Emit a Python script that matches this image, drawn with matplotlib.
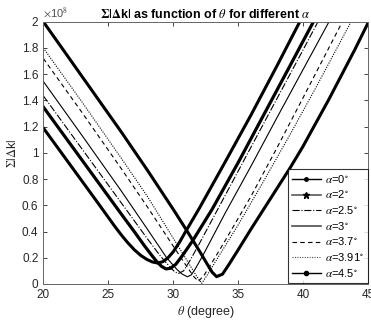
import numpy as np
import matplotlib
matplotlib.use('Agg')
import matplotlib.pyplot as plt
from matplotlib.lines import Line2D

plt.rcParams['font.family'] = ['Liberation Sans', 'DejaVu Sans']
plt.rcParams['mathtext.fontset'] = 'stix'

# values, y in units of 1e8
t_a0 = [20, 22, 24, 25.5, 26, 26.5, 27, 27.5, 28, 28.4, 28.8, 29.2, 29.6, 30.0, 30.5, 30.9, 32.0, 34.0, 36.0, 38.0, 39.75]
v_a0 = [1.19, 0.918, 0.646, 0.44, 0.375, 0.315, 0.262, 0.218, 0.186, 0.168, 0.16, 0.17, 0.2, 0.245, 0.32, 0.39, 0.575, 0.93, 1.29, 1.665, 2.0]

t_a2 = [20, 22, 24, 26, 27, 27.8, 28.3, 28.7, 29.1, 29.45, 29.8, 30.2, 30.7, 31.5, 33, 35, 37, 39, 40.8]
v_a2 = [1.35, 1.078, 0.806, 0.534, 0.40, 0.29, 0.225, 0.175, 0.135, 0.115, 0.12, 0.15, 0.215, 0.33, 0.57, 0.925, 1.295, 1.665, 2.0]

t_a25 = [20, 22, 24, 26, 28, 29, 29.7, 30.1, 30.4, 30.8, 31.3, 32, 34, 36, 38, 40, 41.15]
v_a25 = [1.435, 1.163, 0.891, 0.619, 0.347, 0.215, 0.135, 0.095, 0.08, 0.10, 0.18, 0.305, 0.675, 1.045, 1.415, 1.785, 2.0]

t_a3 = [20, 23, 26, 28, 29.5, 30.3, 30.7, 31.1, 31.4, 31.7, 32.3, 34, 36, 38, 40, 42]
v_a3 = [1.545, 1.13, 0.71, 0.42, 0.20, 0.11, 0.075, 0.055, 0.07, 0.115, 0.22, 0.54, 0.90, 1.27, 1.635, 2.0]

t_a37 = [20, 23, 26, 28, 30, 31, 31.6, 31.95, 32.4, 33, 34, 36, 38, 40, 43.03]
v_a37 = [1.72, 1.305, 0.88, 0.59, 0.29, 0.14, 0.055, 0.02, 0.07, 0.165, 0.33, 0.67, 1.04, 1.42, 2.0]

t_a391 = [20, 23, 26, 28, 30, 31, 31.8, 32.2, 32.6, 33, 35, 37, 39, 41, 43.7]
v_a391 = [1.80, 1.385, 0.96, 0.67, 0.35, 0.19, 0.06, 0.005, 0.065, 0.13, 0.45, 0.79, 1.14, 1.50, 2.0]

t_a45 = [20, 22, 24, 26, 28, 29, 30, 31, 32, 32.6, 33.0, 33.34, 33.8, 34.3, 35, 36, 37, 38, 39, 40, 42, 44, 45]
v_a45 = [2.0, 1.72, 1.44, 1.16, 0.87, 0.72, 0.57, 0.415, 0.255, 0.155, 0.09, 0.056, 0.075, 0.15, 0.26, 0.42, 0.575, 0.73, 0.885, 1.05, 1.41, 1.79, 1.99]

labels = [r'$\alpha$=0$^{\circ}$', r'$\alpha$=2$^{\circ}$', r'$\alpha$=2.5$^{\circ}$', r'$\alpha$=3$^{\circ}$',
          r'$\alpha$=3.7$^{\circ}$', r'$\alpha$=3.91$^{\circ}$', r'$\alpha$=4.5$^{\circ}$']
yticks = [0, 0.2, 0.4, 0.6, 0.8, 1, 1.2, 1.4, 1.6, 1.8, 2]
ytick_labels = ['0', '0.2', '0.4', '0.6', '0.8', '1', '1.2', '1.4', '1.6', '1.8', '2']
xticks = [20, 25, 30, 35, 40, 45]

fig = plt.figure(figsize=(3.71, 3.2), dpi=100)
ax = fig.add_axes([0.1167, 0.1125, 0.8752, 0.8197])

sc = 1e8
ax.plot(t_a0, np.array(v_a0) * sc, color='k', lw=2.2, solid_joinstyle='round')
ax.plot(t_a2, np.array(v_a2) * sc, color='k', lw=2.3, solid_joinstyle='round')
ax.plot(t_a25, np.array(v_a25) * sc, color='k', lw=0.8, ls='-.')
ax.plot(t_a3, np.array(v_a3) * sc, color='k', lw=0.8, ls='-')
ax.plot(t_a37, np.array(v_a37) * sc, color='k', lw=0.8, ls=(0, (4, 3)))
ax.plot(t_a391, np.array(v_a391) * sc, color='k', lw=0.8, ls=(0, (1, 1.2)))
ax.plot(t_a45, np.array(v_a45) * sc, color='k', lw=2.2, solid_joinstyle='round')

# legend handles (markers as in the original)
handles = [
    Line2D([], [], color='k', lw=1.0, marker='.', ms=5),
    Line2D([], [], color='0.35', lw=1.2, marker='*', ms=5, mfc='k', mec='k'),
    Line2D([], [], color='k', lw=0.8, ls='-.'),
    Line2D([], [], color='0.3', lw=1.2, ls='-'),
    Line2D([], [], color='k', lw=0.8, ls=(0, (4, 3))),
    Line2D([], [], color='0.3', lw=0.8, ls=(0, (1, 1.2))),
    Line2D([], [], color='k', lw=1.0, marker='.', ms=6),
]
leg = ax.legend(handles, labels, loc='lower right', bbox_to_anchor=(1.0, 0.005),
                fontsize=8, handlelength=2.6, handletextpad=0.4, labelspacing=0.33,
                borderpad=0.35, borderaxespad=0.0, frameon=True, fancybox=False)
leg.get_frame().set_edgecolor('k')
leg.get_frame().set_linewidth(0.8)

ax.set_xlim(20, 45)
ax.set_ylim(0, 2e8)
ax.set_xticks(xticks)
ax.set_yticks(np.array(yticks) * sc)
ax.set_yticklabels(ytick_labels)
ax.text(0.0, 1.005, r'$\times$10$^{8}$', transform=ax.transAxes, fontsize=8,
        color='0.3', ha='left', va='bottom')

ax.tick_params(direction='in', length=3, width=0.6, labelsize=8.5, colors='0.15',
               top=True, right=True)
for s in ax.spines.values():
    s.set_color('0.4')
    s.set_linewidth(0.7)

ax.set_xlabel(r'$\theta$ (degree)', fontsize=9, color='0.15', labelpad=2)
ax.set_ylabel(r'$\Sigma|\Delta$k$|$', fontsize=9, color='0.15', labelpad=2)
ax.set_title(r'$\mathbf{\Sigma|\Delta}$k$\mathbf{|}$ as function of $\theta$ for different $\alpha$',
             fontsize=9, fontweight='bold', pad=3)

fig.savefig('out.png', dpi=100)
